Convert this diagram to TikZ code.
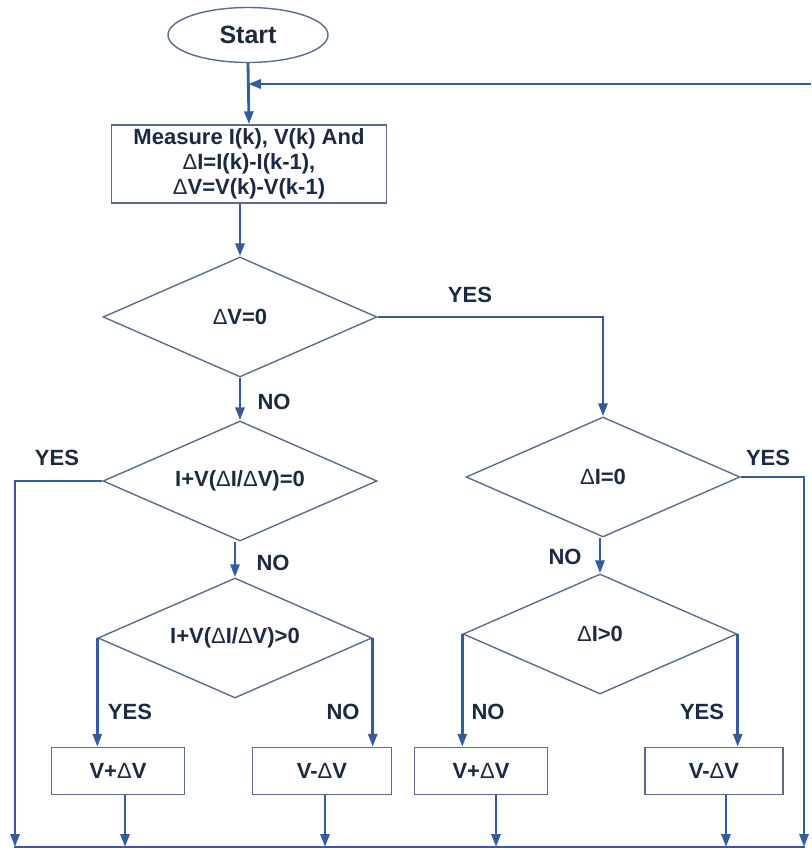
\documentclass[tikz,border=0pt]{standalone}
\usepackage{fontspec}
\setmainfont{Liberation Sans}
\usetikzlibrary{shapes.geometric,arrows.meta}
\definecolor{lineblue}{HTML}{335B9E}
\definecolor{shapeline}{HTML}{5A6C8C}
\definecolor{txt}{HTML}{1C2942}
\newcommand\dlt{{\mdseries Δ}}
\begin{document}
\begin{tikzpicture}[x=1pt,y=-1pt,
  every node/.style={text=txt,font=\fontsize{22}{25}\selectfont\bfseries},
  conn/.style={draw=lineblue,line width=2.8pt},
  arr/.style={conn,-{Triangle[length=13pt,width=9pt]}},
  dec/.style={diamond,draw=shapeline,line width=1.4pt,aspect=2.28,inner sep=0pt,
    minimum width=274pt,minimum height=120pt},
  boxn/.style={rectangle,draw=shapeline,line width=1.4pt,minimum height=47pt,inner sep=0pt},
  startn/.style={ellipse,draw=shapeline,line width=1.4pt,minimum width=160pt,minimum height=55pt,inner sep=0pt,
    font=\fontsize{25}{28}\selectfont\bfseries}]
\useasboundingbox (0,0) rectangle (811,850);
% nodes
\node[startn] (start) at (248,35) {Start};
\node[boxn,minimum width=275pt,minimum height=78pt,align=center] (meas) at (249,164)
  {Measure I(k), V(k) And\\ \dlt I=I(k)-I(k-1),\\ \dlt V=V(k)-V(k-1)};
\node[dec] (d1) at (240,317) {\dlt V=0};
\node[dec] (d3) at (240,481) {I+V(\dlt I/\dlt V)=0};
\node[dec] (d5) at (235,638) {I+V(\dlt I/\dlt V)>0};
\node[dec] (d2) at (603,477) {\dlt I=0};
\node[dec] (d4) at (600,634) {\dlt I>0};
\node[boxn,minimum width=133pt] (b1) at (118,771) {V+\dlt V};
\node[boxn,minimum width=139pt] (b2) at (322,771) {V-\dlt V};
\node[boxn,minimum width=133pt] (b3) at (481,771) {V+\dlt V};
\node[boxn,minimum width=138pt] (b4) at (714,771) {V-\dlt V};
% labels
\node (l1) at (470,295) {YES};
\node (l2) at (274,402) {NO};
\node (l3) at (57,458) {YES};
\node (l4) at (273,563) {NO};
\node (l5) at (768,458) {YES};
\node (l6) at (565,557) {NO};
\node (l7) at (130,712) {YES};
\node (l8) at (343,712) {NO};
\node (l9) at (488,712) {NO};
\node (l10) at (702,712) {YES};
% coordinates
\coordinate (tr) at (811,84);
\coordinate (bl) at (15,847);
\coordinate (br) at (804,847);
\coordinate (o1) at ([xshift=7pt]b1.south);
\coordinate (o2) at ([xshift=3pt]b2.south);
\coordinate (o3) at ([xshift=15pt]b3.south);
\coordinate (o4) at ([xshift=12pt]b4.south);
% connectors
\draw[arr] (start.south) -- (meas.north);
\draw[arr] (tr) -- (start.south |- tr);
\draw[arr] (meas.south -| d1.north) -- (d1.north);
\draw[arr] (d1.south) -- (d3.north);
\draw[arr] (d1.east) -| (d2.north);
\draw[arr] (d3.south -| d5.north) -- (d5.north);
\draw[arr] (d2.south -| d4.north) -- (d4.north);
\draw[arr] (d3.west) -| (bl);
\draw[arr] (d2.east) -| (br);
\draw[arr] (d5.west) -- (d5.west |- b1.north);
\draw[arr] (d5.east) -- (d5.east |- b2.north);
\draw[arr] (d4.west) -- (d4.west |- b3.north);
\draw[arr] (d4.east) -- (d4.east |- b4.north);
\draw[arr] (o1) -- (o1 |- bl);
\draw[arr] (o2) -- (o2 |- bl);
\draw[arr] (o3) -- (o3 |- bl);
\draw[arr] (o4) -- (o4 |- bl);
\draw[conn] ([xshift=-1.4pt]bl) -- ([xshift=1.4pt]br);
\end{tikzpicture}
\end{document}
